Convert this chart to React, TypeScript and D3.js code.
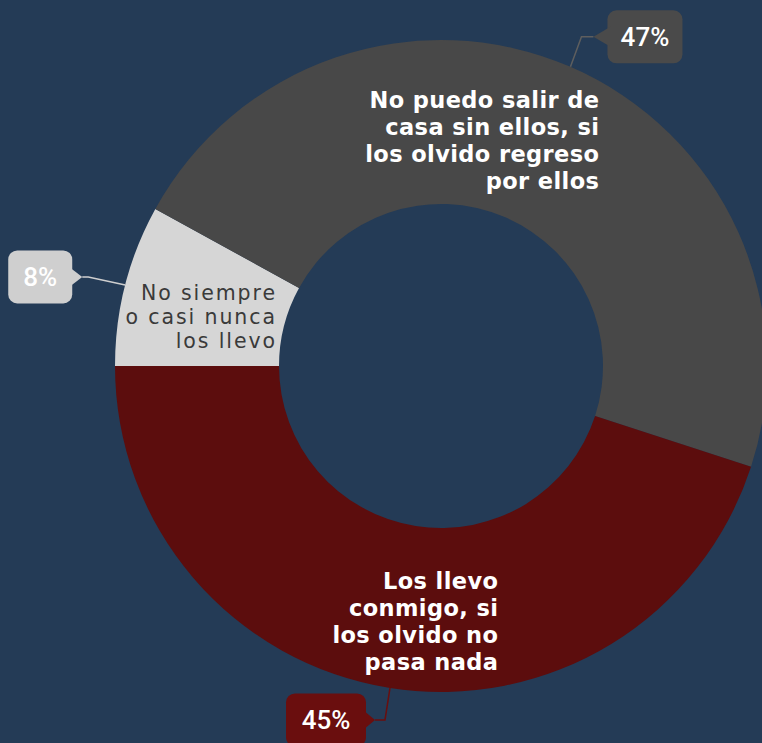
import React from "react";
import * as d3 from "d3";

// slices in drawing order (clockwise from 9 o'clock)
const categories = [
  "No siempre o casi nunca los llevo",
  "No puedo salir de casa sin ellos, si los olvido regreso por ellos",
  "Los llevo conmigo, si los olvido no pasa nada",
];
const labelLines = [
  ["No siempre", "o casi nunca", "los llevo"],
  ["No puedo salir de", "casa sin ellos, si", "los olvido regreso", "por ellos"],
  ["Los llevo", "conmigo, si", "los olvido no", "pasa nada"],
];
const values = [8, 47, 45];
const percentLabels = ["8%", "47%", "45%"];
const sliceColors = ["#d6d6d6", "#484848", "#5c0d0d"];

const width = 762;
const height = 743;
const cx = 441;
const cy = 366;
const outerR = 326;
const innerR = 162;
const bg = "#243b56";

// where the text block sits inside each slice (right edge, first baseline) relative to center
const inLabel = [
  { dx: -166, dy: -66, lh: 24, size: 20.5, weight: 400, fill: "#3a3a3a", ls: 1.9 },
  { dx: 158, dy: -258, lh: 27, size: 22.5, weight: 600, fill: "#ffffff", ls: 0.4 },
  { dx: 57, dy: 223, lh: 27, size: 22.5, weight: 600, fill: "#ffffff", ls: 0.4 },
];

// callout: elbow offset from arc point, tip offset from elbow, pointer length, box side and width
const callout = [
  { ex: -37, ey: -8, tx: -6, pl: 10, side: -1, w: 64, box: "#cfcfcf", line: "#cfcfcf" },
  { ex: 11, ey: -30, tx: 12, pl: 14, side: 1, w: 75, box: "#4a4a4a", line: "#5e5e5e" },
  { ex: -5, ey: 32, tx: -10, pl: 9, side: -1, w: 80, box: "#6a0e0e", line: "#6a0e0e" },
];

export default function App() {
  const pie = d3
    .pie<number>()
    .sort(null)
    .startAngle(-Math.PI / 2)
    .endAngle((3 * Math.PI) / 2);
  const arcs = pie(values);
  const arc = d3.arc<d3.PieArcDatum<number>>().innerRadius(innerR).outerRadius(outerR);

  return (
    <svg
      width={width}
      height={height}
      style={{ position: "absolute", left: 0, top: 0, background: bg }}
    >
      <rect width={width} height={height} fill={bg} />
      <g transform={`translate(${cx},${cy})`}>
        {arcs.map((a, i) => (
          <path key={categories[i]} d={arc(a) || ""} fill={sliceColors[i]} />
        ))}
        {arcs.map((a, i) => {
          const s = inLabel[i];
          return (
            <text
              key={"t" + i}
              x={s.dx}
              y={s.dy}
              textAnchor="end"
              fill={s.fill}
              fontSize={s.size}
              fontWeight={s.weight}
              letterSpacing={s.ls}
              fontFamily="'DejaVu Sans', sans-serif"
            >
              {labelLines[i].map((ln, j) => (
                <tspan key={j} x={s.dx + s.ls} dy={j === 0 ? 0 : s.lh}>
                  {ln}
                </tspan>
              ))}
            </text>
          );
        })}
      </g>
      {arcs.map((a, i) => {
        const mid = (a.startAngle + a.endAngle) / 2;
        const ax = cx + Math.sin(mid) * outerR;
        const ay = cy - Math.cos(mid) * outerR;
        const c = callout[i];
        const exx = ax + c.ex;
        const eyy = ay + c.ey;
        const tipX = exx + c.tx;
        const tipY = eyy;
        const edge = tipX + c.side * c.pl;
        const bx = c.side > 0 ? edge : edge - c.w;
        const bh = 53;
        return (
          <g key={"c" + i}>
            <polyline
              points={`${ax},${ay} ${exx},${eyy} ${tipX},${tipY}`}
              fill="none"
              stroke={c.line}
              strokeWidth={1.5}
            />
            <rect x={bx} y={tipY - bh / 2} width={c.w} height={bh} rx={9} fill={c.box} />
            <polygon
              points={`${tipX},${tipY} ${edge + c.side * 3},${tipY - 10} ${edge + c.side * 3},${tipY + 10}`}
              fill={c.box}
            />
            <text
              x={bx + c.w / 2}
              y={tipY + 9}
              textAnchor="middle"
              fill="#ffffff"
              fontSize={26}
              fontWeight={500}
              fontFamily="Roboto, sans-serif"
            >
              {percentLabels[i]}
            </text>
          </g>
        );
      })}
    </svg>
  );
}
